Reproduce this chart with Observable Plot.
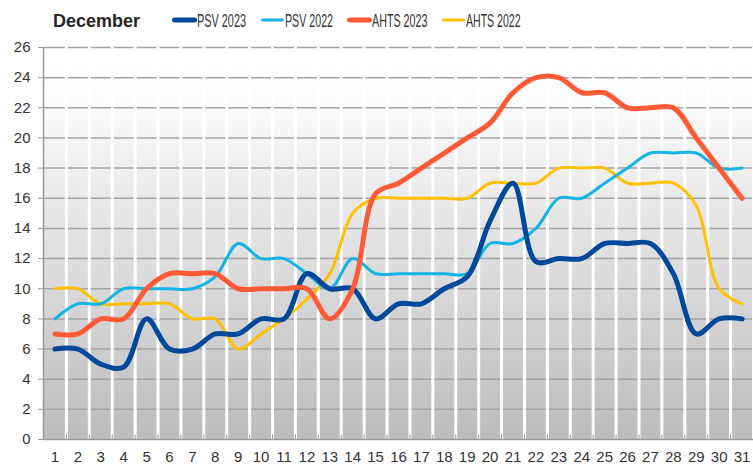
<!DOCTYPE html>
<html><head><meta charset="utf-8">
<script src="https://cdn.jsdelivr.net/npm/d3@7"></script>
<script src="https://cdn.jsdelivr.net/npm/@observablehq/plot@0.6"></script>
<style>
body{margin:0;background:#fff;font-family:"Liberation Sans",Arial,sans-serif;}
#wrap{width:753px;}
#head{display:block;}
</style></head><body>
<div id="wrap"><svg id="head" width="753" height="30"></svg><div id="chart"></div></div>
<script>
const days = d3.range(1, 32);
const yTicks = d3.range(0, 27, 2);
const title = "December";
const seriesNames = ["PSV 2023", "PSV 2022", "AHTS 2023", "AHTS 2022"];
const psv2023  = [6,6,5,4.8,8,6,6,7,7,8,8,11,10,10,8,9,9,10,10.8,14.5,17,11.8,12,12,13,13,13,11,7,8,8];
const psv2022  = [8,9,9,10,10,10,10,10.8,13,12,12,11,10,12,11,11,11,11,11,13,13,14,16,16,17,18,19,19,19,18,18];
const ahts2023 = [7,7,8,8,10,11,11,11,10,10,10,10,8,10,16.3,17,18,19,20,21,23,24,24,23,23,22,22,22,20,18,16];
const ahts2022 = [10,10,9,9,9,9,8,8,6,7,8,9.3,11,15,16,16,16,16,16,17,17,17,18,18,18,17,17,17,15.5,10,9];
const seriesValues = [psv2023, psv2022, ahts2023, ahts2022];

const colors = ["#00489a", "#14b4e6", "#ff5a35", "#ffc000"];
const widths = [5, 3, 5, 3];
const swatchX = [173, 261, 348, 442];
const textLens = [49, 48, 55.5, 54.5];

// header: title + legend
const head = d3.select("#head");
const defs = head.append("defs");
const grad = defs.append("linearGradient").attr("id", "bg")
  .attr("x1", 0).attr("y1", 0).attr("x2", 0).attr("y2", 1);
grad.append("stop").attr("offset", "0%").attr("stop-color", "#ffffff");
grad.append("stop").attr("offset", "12%").attr("stop-color", "#fdfdfd");
grad.append("stop").attr("offset", "100%").attr("stop-color", "#bcbcbc");
head.append("text").attr("x", 53).attr("y", 27)
  .attr("font-family", '"Liberation Sans", Arial, sans-serif')
  .attr("font-weight", "bold").attr("font-size", 18).attr("fill", "#262626").text(title);
seriesNames.forEach((n, i) => {
  head.append("line").attr("x1", swatchX[i] + 1.5).attr("x2", swatchX[i] + 21.5)
    .attr("y1", 20).attr("y2", 20).attr("stroke", colors[i])
    .attr("stroke-width", widths[i]).attr("stroke-linecap", "round");
  head.append("text").attr("x", swatchX[i] + 24).attr("y", 26.5)
    .attr("font-family", '"Liberation Sans Narrow", "Arial Narrow", "Liberation Sans", Arial, sans-serif')
    .attr("font-size", 18.5).attr("fill", "#333")
    .attr("textLength", textLens[i]).attr("lengthAdjust", "spacingAndGlyphs").text(n);
});

const rows = [];
seriesNames.forEach((name, i) => seriesValues[i].forEach((v, j) => rows.push({series: name, day: days[j], value: v})));
const bounds = d3.range(0, 32).map(k => k + 0.5);
const drawOrder = [3, 1, 0, 2];

const chart = Plot.plot({
  width: 753, height: 435,
  marginTop: 17, marginBottom: 26, marginLeft: 43, marginRight: 0,
  style: {fontFamily: '"Liberation Sans", Arial, sans-serif', fontSize: "15px", color: "#333", background: "transparent", overflow: "visible"},
  x: {type: "linear", domain: [0.5, 31.5]},
  y: {domain: [0, 26]},
  marks: [
    Plot.rect([0], {x1: 0.5, x2: 31.5, y1: 0, y2: 26, fill: "url(#bg)"}),
    Plot.ruleY(yTicks.filter(t => t > 0), {x1: 0.5, x2: 31.5, stroke: "#a3a3a3", strokeWidth: 1.5}),
    Plot.ruleX(bounds.slice(1), {y1: 0, y2: 26, stroke: "#ffffff", strokeWidth: 3}),
    Plot.ruleX(bounds.slice(1), {y1: 0, y2: 0.3, stroke: "#999", strokeWidth: 1}),
    Plot.ruleX([0.5], {y1: 0, y2: 26, stroke: "#999", strokeWidth: 1.5}),
    Plot.ruleY([0], {x1: 0.5, x2: 31.5, stroke: "#999", strokeWidth: 1.5}),
    Plot.axisY({ticks: yTicks, tickSize: 5, tickPadding: 8, stroke: "#999", fill: "#333", label: null, fontSize: 15}),
    Plot.axisX({ticks: days, tickSize: 0, tickPadding: 11.5, tickFormat: d => String(d), fill: "#333", label: null, fontSize: 15}),
    ...drawOrder.map(i => Plot.line(rows.filter(r => r.series === seriesNames[i]), {
      x: "day", y: "value", stroke: colors[i], strokeWidth: widths[i],
      curve: "catmull-rom", strokeLinecap: "round", strokeLinejoin: "round"
    }))
  ]
});
document.getElementById("chart").appendChild(chart);
</script>
</body></html>
